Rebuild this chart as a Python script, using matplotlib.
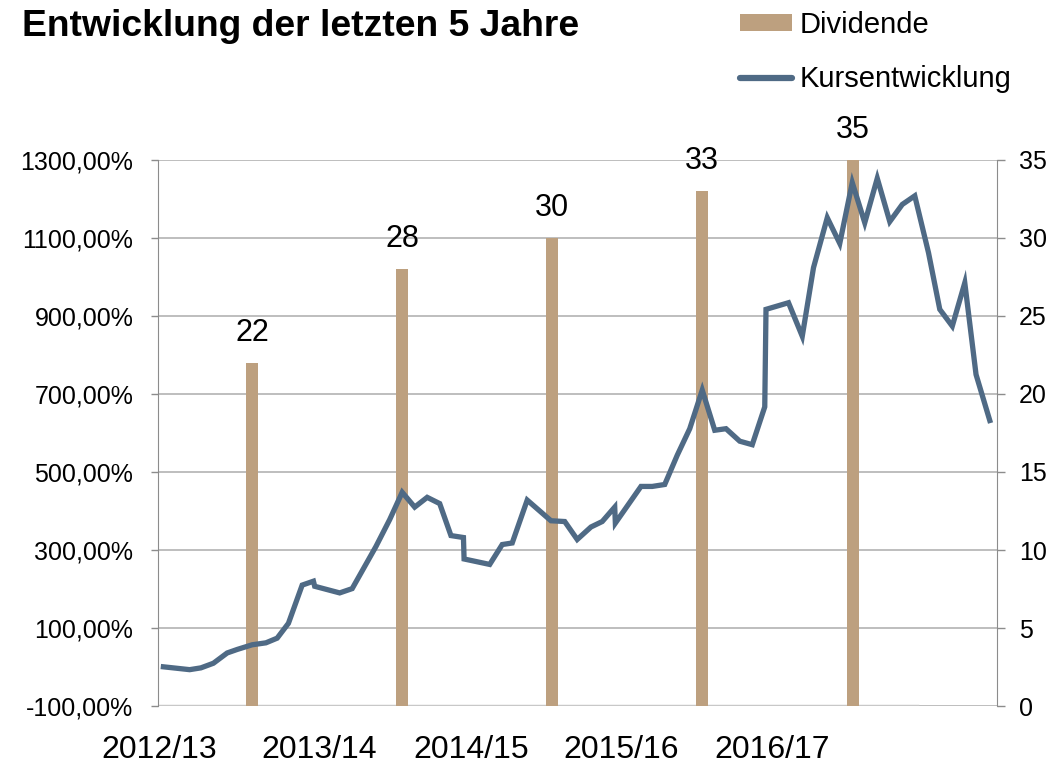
import matplotlib
matplotlib.use("Agg")
import matplotlib.pyplot as plt
from matplotlib.patches import Patch
from matplotlib.lines import Line2D

plt.rcParams['font.family'] = ['Liberation Sans', 'DejaVu Sans']

# months since start of the series
kurs_x = [0.0, 2.1, 3.0, 4.0, 5.1, 5.9, 7.1, 8.2, 9.1, 10.0, 11.1, 12.0, 12.1, 14.1, 15.1,
          17.0, 18.1, 19.1, 20.1, 21.1, 22.1, 23.0, 24.0, 24.05, 26.1, 27.1, 27.9, 29.1,
          31.0, 32.1, 33.1, 34.2, 35.1, 36.1, 36.15, 38.2, 39.1, 40.1, 41.1, 42.1, 43.1,
          44.1, 45.0, 46.1, 47.1, 48.1, 48.2, 50.0, 51.1, 52.0, 53.1, 54.1, 55.1, 56.1,
          57.1, 58.1, 59.1, 60.1, 61.2, 62.1, 63.1, 64.1, 65.0, 66.1]
kurs_y = [0.5, -6.8, -2.2, 9.7, 36, 45, 57, 62, 74, 112, 210, 220, 207, 190, 201,
          309, 378, 448, 410, 435, 419, 337, 332, 277, 263, 314, 318, 428,
          375, 373, 327, 359, 373, 410, 369, 463, 463, 468, 543, 611, 710,
          607, 611, 579, 570, 667, 917, 934, 848, 1024, 1152, 1086, 1242, 1139,
          1253, 1142, 1186, 1208, 1062, 917, 874, 985, 750, 632]

div_x = [7.1, 19.1, 31.1, 43.1, 55.15]
div_y = [22, 28, 30, 33, 35]

jahr_pos = [-0.35, 12.45, 24.6, 36.6, 48.7]
jahr_labels = ['2012/13', '2013/14', '2014/15', '2015/16', '2016/17']

left_ticks = [-100, 100, 300, 500, 700, 900, 1100, 1300]
right_ticks = [0, 5, 10, 15, 20, 25, 30, 35]

bar_color = '#BDA07F'
line_color = '#4F6A85'
grid_color = '#B3B3B3'
axis_color = '#8C8C8C'

fig = plt.figure(figsize=(10.51, 7.64), dpi=100)
ax = fig.add_axes([0.1506, 0.0759, 0.7977, 0.7147])
ax2 = ax.twinx()

# bars on the right-hand scale
ax.bar(div_x, div_y, width=0.95, color=bar_color, zorder=2)
for x, v in zip(div_x, div_y):
    ax.annotate(str(v), (x, v), xytext=(0, 21.5), textcoords='offset points',
                ha='center', va='center', fontsize=22)
ax.set_ylim(0, 35)
ax.set_xlim(-0.41, 66.65)
ax.yaxis.tick_right()
ax.set_yticks(right_ticks)
ax.tick_params(axis='y', labelsize=18, length=6, width=1, color=axis_color, pad=10)
ax.set_xticks(jahr_pos, jahr_labels)
ax.tick_params(axis='x', length=0, labelsize=23, pad=21)
ax.set_axisbelow(True)
ax.grid(axis='y', color=grid_color, linewidth=1.2)
ax.axhline(0, xmin=0, xmax=0.905, color='#C8C8C8', linewidth=2.5, zorder=1)
for s in ['top', 'bottom']:
    ax.spines[s].set_visible(False)
ax.spines['left'].set_color(axis_color)
ax.spines['right'].set_color(axis_color)

# price line on the left-hand scale
ax2.plot(kurs_x, kurs_y, color=line_color, linewidth=3.8, solid_joinstyle='miter', zorder=3)
ax2.set_ylim(-100, 1300)
ax2.yaxis.tick_left()
ax2.set_yticks(left_ticks, [f"{v:.2f}%".replace('.', ',') for v in left_ticks])
ax2.tick_params(axis='y', labelsize=18, length=5, width=1, color=axis_color, pad=13)
for s in ax2.spines.values():
    s.set_visible(False)

fig.text(0.021, 1 - 36 / 764, 'Entwicklung der letzten 5 Jahre', fontsize=26.8,
         fontweight='bold', va='baseline', ha='left')

handles = [Patch(facecolor=bar_color, edgecolor='none'),
           Line2D([], [], color=line_color, linewidth=4.5, solid_capstyle='round')]
fig.legend(handles, ['Dividende', 'Kursentwicklung'], loc='upper left',
           bbox_to_anchor=(0.704, 0.986), frameon=False, fontsize=21,
           handlelength=1.8, handleheight=0.5, handletextpad=0.25,
           labelspacing=0.9, borderpad=0, borderaxespad=0)

fig.savefig('out.png', dpi=100)
